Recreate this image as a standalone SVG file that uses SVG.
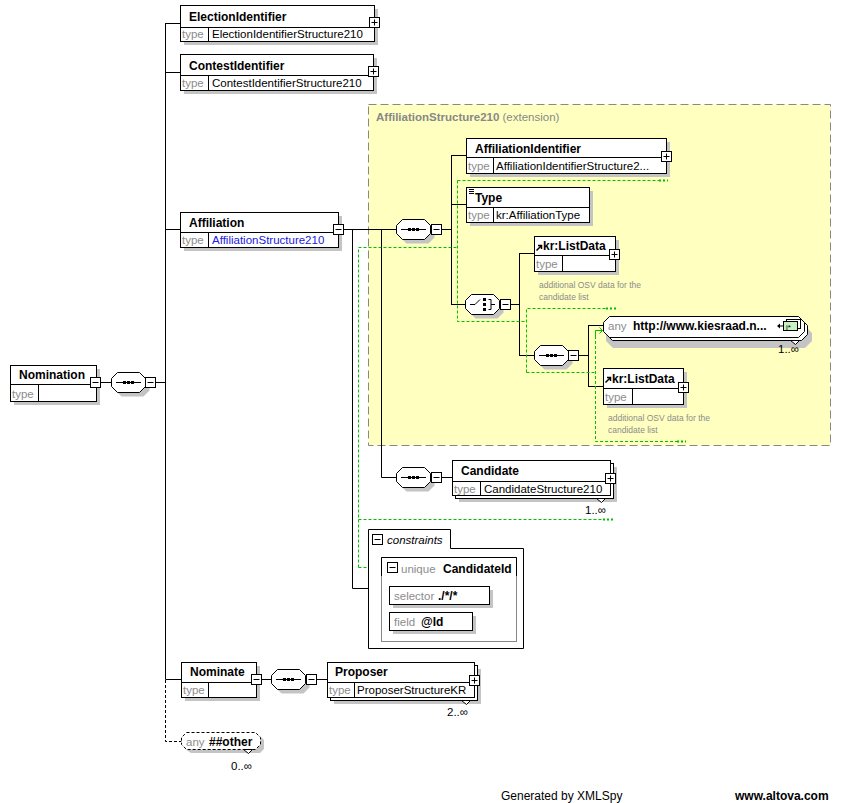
<svg xmlns="http://www.w3.org/2000/svg" width="841" height="803" viewBox="0 0 841 803">
<style>
text{font-family:"Liberation Sans",Arial,sans-serif}
.bx{fill:#fff;stroke:#000;stroke-width:1}
.sh{fill:#c4c4c4}
.ln{stroke:#000;stroke-width:1;fill:none}
.gr{stroke:#00c000;stroke-width:1;stroke-dasharray:3,2;fill:none}
.gd{stroke:#00c000;stroke-width:2;stroke-dasharray:2,2;fill:none}
.nm{font-size:12px;font-weight:bold;fill:#000}
.tl{font-size:11.5px;fill:#8c8c8c}
.tv{font-size:11.5px;fill:#000}
.an{font-size:8.5px;fill:#8c8c8c}
.oc{font-size:11.5px;fill:#000}
</style>
<defs>
<g id="plus"><rect x="0.5" y="0.5" width="10" height="10" fill="#fff" stroke="#000"/><path d="M2.5 5.5h6M5.5 2.5v6" stroke="#000"/></g>
<g id="minus"><rect x="0.5" y="0.5" width="10" height="10" fill="#fff" stroke="#000"/><path d="M2.5 5.5h6" stroke="#000"/></g>
<polygon id="oct" points="6.5,0.5 28.5,0.5 34.5,6.5 34.5,14.5 28.5,20.5 6.5,20.5 0.5,14.5 0.5,6.5"/>
<g id="seq"><use href="#oct" x="4" y="4" fill="#c4c4c4"/><use href="#oct" fill="#fff" stroke="#000"/><path d="M5 10.5h25" stroke="#000"/><rect x="12" y="9" width="3" height="3"/><rect x="16" y="9" width="3" height="3"/><rect x="20" y="9" width="3" height="3"/></g>
<g id="cho"><use href="#oct" x="4" y="4" fill="#c4c4c4"/><use href="#oct" fill="#fff" stroke="#000"/><path d="M5 10.5h5l5-5M23.5 5.5h2.5v10h-2.5M26 10.5h4" stroke="#000" fill="none"/><rect x="18" y="4" width="3" height="3"/><rect x="18" y="9" width="3" height="3"/><rect x="18" y="14" width="3" height="3"/></g>
<g id="ref"><path d="M0.5 6.5l5-5M2 1.5h3.5v3.5" stroke="#000" stroke-width="1.5" fill="none"/></g>
<polygon id="tri" points="-4.5,0.5 4.5,0.5 0.5,4.5" fill="#fff" stroke="#000"/>
</defs>

<g id="extension">
<rect x="368.5" y="104.5" width="462" height="341" fill="#ffffc0" stroke="#888" stroke-dasharray="8,4"/>
<text x="376" y="121" font-size="11.5px" fill="#888"><tspan font-weight="bold">AffiliationStructure210</tspan> (extension)</text>
</g>

<g id="connectors">
<path class="ln" d="M165.5 23v656.5M165.5 23.5h15M165.5 72.5h15M165.5 229.5h15M165.5 679.5h16M155 382.5h11M100 382.5h11"/>
<path class="ln" stroke-dasharray="3,2" d="M165.5 680v61.5h16"/>
<path class="ln" d="M343 229.5h53M352.5 229.5v359h16M381.5 229.5v248h15M441 229.5h10.5M451.5 155v150M451.5 155.5h15M451.5 204.5h15M451.5 304.5h14"/>
<path class="ln" d="M510 304.5h9.5M519.5 253v103M519.5 253.5h15M519.5 355.5h15M578 355.5h10.5M588.5 325v62M588.5 325.5h15M588.5 386.5h15M441 477.5h11M261 679.5h10M316 679.5h11"/>
<path class="gr" d="M358.5 567.5v-320h99M457.5 180.5v141h69M526.5 372.5v-64h80M526.5 372.5h69M595.5 336v105.5h82M358.5 519.5h245M358.5 567.5h23M457.5 180.5h202"/>
<path class="gd" d="M659 180.5h9M606 308.5h10M677 441.5h9M603 519.5h10"/>
<path d="M595.5 336v-5.5h7M599.5 327.5l3 3-3 3" stroke="#00c000" fill="none"/>
</g>

<g id="Nomination">
<rect class="sh" x="14" y="369" width="86" height="36"/>
<rect class="bx" x="10.5" y="365.5" width="86" height="36"/>
<path class="ln" d="M10.5 384.5h86M38.5 384.5v17"/>
<text class="nm" x="19" y="379">Nomination</text>
<text class="tl" x="12" y="398">type</text>
<use href="#minus" x="90" y="377"/>
</g>
<g id="seqNomination"><use href="#seq" x="111" y="372"/><use href="#minus" x="145" y="377"/></g>

<g id="ElectionIdentifier">
<rect class="sh" x="184" y="9" width="194" height="36"/>
<rect class="bx" x="180.5" y="5.5" width="194" height="36"/>
<path class="ln" d="M180.5 27.5h194M208.5 27.5v14"/>
<text class="nm" x="189" y="21">ElectionIdentifier</text>
<text class="tl" x="182" y="38">type</text>
<text class="tv" x="212" y="38">ElectionIdentifierStructure210</text>
<use href="#plus" x="369" y="17"/>
</g>

<g id="ContestIdentifier">
<rect class="sh" x="184" y="58" width="193" height="36"/>
<rect class="bx" x="180.5" y="54.5" width="193" height="36"/>
<path class="ln" d="M180.5 75.5h193M208.5 75.5v15"/>
<text class="nm" x="189" y="70">ContestIdentifier</text>
<text class="tl" x="182" y="87">type</text>
<text class="tv" x="212" y="87">ContestIdentifierStructure210</text>
<use href="#plus" x="368" y="66"/>
</g>

<g id="Affiliation">
<rect class="sh" x="184" y="216" width="158" height="35"/>
<rect class="bx" x="180.5" y="212.5" width="158" height="35"/>
<path class="ln" d="M180.5 232.5h158M208.5 232.5v15"/>
<text class="nm" x="189" y="227">Affiliation</text>
<text class="tl" x="182" y="244">type</text>
<text class="tv" x="212" y="244" style="fill:#2020e0">AffiliationStructure210</text>
<use href="#minus" x="333" y="224"/>
</g>

<g id="seqAffiliation"><use href="#seq" x="396" y="219"/><use href="#minus" x="431" y="224"/></g>

<g id="AffiliationIdentifier">
<rect class="sh" x="470" y="142" width="200" height="35"/>
<rect class="bx" x="466.5" y="138.5" width="200" height="35"/>
<path class="ln" d="M466.5 157.5h200M493.5 157.5v16"/>
<text class="nm" x="475" y="153">AffiliationIdentifier</text>
<text class="tl" x="468" y="170">type</text>
<text class="tv" x="496" y="170">AffiliationIdentifierStructure2...</text>
<use href="#plus" x="661" y="151"/>
</g>

<g id="Type">
<rect class="sh" x="470" y="191" width="123" height="35"/>
<rect class="bx" x="466.5" y="187.5" width="123" height="35"/>
<path class="ln" d="M466.5 207.5h123M493.5 207.5v15"/>
<path d="M469 189.5h5M469 191.5h5M469 193.5h5" stroke="#000"/>
<text class="nm" x="475" y="202">Type</text>
<text class="tl" x="468" y="219">type</text>
<text class="tv" x="496" y="219">kr:AffiliationType</text>
</g>

<g id="choice"><use href="#cho" x="465" y="294"/><use href="#minus" x="500" y="299"/></g>

<g id="ListData1">
<rect class="sh" x="538" y="240" width="81" height="35"/>
<rect class="bx" x="534.5" y="236.5" width="81" height="35"/>
<path class="ln" d="M534.5 255.5h81M562.5 255.5v16"/>
<use href="#ref" x="536" y="244"/>
<text class="nm" x="543" y="250">kr:ListData</text>
<text class="tl" x="536" y="268">type</text>
<use href="#plus" x="609" y="249"/>
<text class="an" x="539" y="288">additional OSV data for the</text>
<text class="an" x="539" y="300">candidate list</text>
</g>

<g id="seq2"><use href="#seq" x="534" y="345"/><use href="#minus" x="568" y="350"/></g>

<g id="anyKiesraad">
<polygon points="613,326 805,326 812,333 812,341 805,348 613,348 606,341 606,333" fill="#c4c4c4"/>
<polygon points="612.5,319.5 801.5,319.5 807.5,325.5 807.5,334.5 801.5,340.5 612.5,340.5 606.5,334.5 606.5,325.5" fill="#fff" stroke="#000"/>
<polygon points="609.5,316.5 798.5,316.5 804.5,322.5 804.5,331.5 798.5,337.5 609.5,337.5 603.5,331.5 603.5,322.5" fill="#fff" stroke="#000"/>
<text class="tl" x="608" y="330">any</text>
<text class="nm" x="633" y="330">http://www.kiesraad.n...</text>
<rect x="786.5" y="319.5" width="14" height="9" fill="#fff" stroke="#000"/>
<rect x="783.5" y="321.5" width="14" height="9" fill="#c8f0c0" stroke="#000"/>
<text x="786" y="329.5" font-size="8px" fill="#000">i*</text>
<path d="M778 326h5" stroke="#000"/><polygon points="777,326 780,323.5 780,328.5" fill="#000"/>
<use href="#tri" x="795" y="340"/>
<text class="oc" x="778" y="353">1..∞</text>
</g>

<g id="ListData2">
<rect class="sh" x="607" y="372" width="80" height="36"/>
<rect class="bx" x="603.5" y="368.5" width="80" height="36"/>
<path class="ln" d="M603.5 388.5h80M632.5 388.5v16"/>
<use href="#ref" x="605" y="376"/>
<text class="nm" x="612" y="383">kr:ListData</text>
<text class="tl" x="605" y="401">type</text>
<use href="#plus" x="678" y="382"/>
<text class="an" x="608" y="421">additional OSV data for the</text>
<text class="an" x="608" y="433">candidate list</text>
</g>

<g id="seqCandidate"><use href="#seq" x="396" y="467"/><use href="#minus" x="431" y="472"/></g>

<g id="Candidate">
<rect class="sh" x="459" y="467" width="158" height="35"/>
<rect class="bx" x="455.5" y="463.5" width="158" height="35"/>
<rect class="bx" x="452.5" y="460.5" width="158" height="35"/>
<path class="ln" d="M452.5 481.5h158M480.5 481.5v14"/>
<text class="nm" x="461" y="475">Candidate</text>
<text class="tl" x="454" y="493">type</text>
<text class="tv" x="484" y="493">CandidateStructure210</text>
<use href="#plus" x="605" y="473"/>
<use href="#tri" x="601" y="498"/>
<text class="oc" x="585" y="514">1..∞</text>
</g>

<g id="constraints">
<path d="M368.5 529.5h82v19h73v100h-155z" fill="#fff" stroke="#000"/>
<use href="#minus" x="372" y="534"/>
<text x="387" y="544" font-size="11.5px" font-style="italic" fill="#000">constraints</text>
<rect x="381.5" y="557.5" width="135" height="84" fill="#fff" stroke="#888"/>
<path class="ln" d="M381.5 576v-18.5h135v18.5"/>
<use href="#minus" x="387" y="562"/>
<text class="tl" x="401" y="573">unique</text>
<text class="nm" x="443" y="573">CandidateId</text>
<rect class="sh" x="393" y="590" width="100" height="18"/>
<rect class="bx" x="389.5" y="586.5" width="100" height="18"/>
<text class="tl" x="394" y="600">selector</text>
<text class="nm" x="438" y="600">./*/*</text>
<rect class="sh" x="393" y="616" width="83" height="18"/>
<rect class="bx" x="389.5" y="612.5" width="83" height="18"/>
<text class="tl" x="394" y="626">field</text>
<text class="nm" x="421" y="626">@Id</text>
</g>

<g id="Nominate">
<rect class="sh" x="185" y="666" width="75" height="35"/>
<rect class="bx" x="181.5" y="662.5" width="75" height="35"/>
<path class="ln" d="M181.5 682.5h75M208.5 682.5v15"/>
<text class="nm" x="190" y="676">Nominate</text>
<text class="tl" x="183" y="694">type</text>
<use href="#minus" x="251" y="674"/>
</g>

<g id="seqNominate"><use href="#seq" x="271" y="669"/><use href="#minus" x="306" y="674"/></g>

<g id="Proposer">
<rect class="sh" x="334" y="669" width="147" height="35"/>
<rect class="bx" x="330.5" y="665.5" width="147" height="35"/>
<rect class="bx" x="327.5" y="662.5" width="147" height="35"/>
<path class="ln" d="M327.5 682.5h147M354.5 682.5v15"/>
<text class="nm" x="335" y="676">Proposer</text>
<text class="tl" x="329" y="694">type</text>
<text class="tv" x="357" y="694">ProposerStructureKR</text>
<use href="#plus" x="469" y="675"/>
<use href="#tri" x="466" y="700"/>
<text class="oc" x="447" y="716">2..∞</text>
</g>

<g id="anyOther">
<polygon points="191,736 260,736 264,740 264,749 260,753 191,753 185,749 185,740" fill="#c4c4c4"/>
<polygon points="186.5,732.5 255.5,732.5 260.5,737.5 260.5,744.5 255.5,749.5 186.5,749.5 181.5,744.5 181.5,737.5" fill="#fff" stroke="#000" stroke-dasharray="3,2"/>
<text class="tl" x="186" y="746">any</text>
<text class="nm" x="209" y="746">##other</text>
<use href="#tri" x="248" y="749"/>
<text class="oc" x="231" y="770">0..∞</text>
</g>

<g id="footer">
<text x="501" y="800" font-size="12px" fill="#000">Generated by XMLSpy</text>
<text x="735" y="800" font-size="12px" font-weight="bold" fill="#000">www.altova.com</text>
</g>
</svg>
